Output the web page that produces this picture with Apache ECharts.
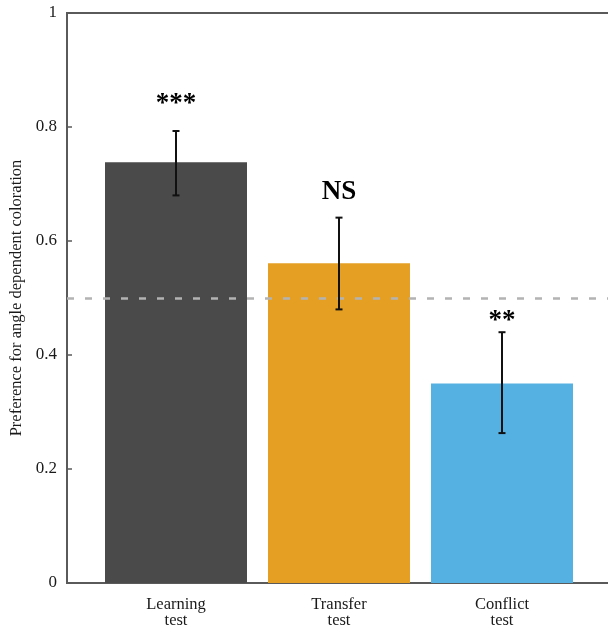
<!DOCTYPE html>
<html><head><meta charset="utf-8">
<script src="https://cdn.jsdelivr.net/npm/echarts@6/dist/echarts.min.js"></script>
<style>html,body{margin:0;padding:0;background:#fff}#c{width:608px;height:629px}</style>
</head><body><div id="c"></div>
<script>
const categories = ['Learning\ntest', 'Transfer\ntest', 'Conflict\ntest'];
const means = [0.738, 0.561, 0.350];
const errLow = [0.680, 0.480, 0.263];
const errHigh = [0.793, 0.641, 0.440];
const annotations = ['***', 'NS', '**'];
const annotationY = [0.84, 0.686, 0.459];
const chanceLevel = 0.5;
const yTicks = [0, 0.2, 0.4, 0.6, 0.8, 1];
const barColors = ['#4a4a4a', '#e5a024', '#56b1e3'];

const serif = '"Liberation Serif","DejaVu Serif",serif';
const chart = echarts.init(document.getElementById('c'), null, {renderer: 'canvas'});
chart.setOption({
  animation: false,
  backgroundColor: '#fff',
  grid: [
    {left: 67, right: -8, top: 13, bottom: 46, show: true, borderColor: '#5a5a5a', borderWidth: 2,
     backgroundColor: 'transparent', containLabel: false, outerBoundsMode: 'none'},
    {left: 94.5, right: 24.5, top: 13, bottom: 46, containLabel: false, outerBoundsMode: 'none'}
  ],
  xAxis: [
    {gridIndex: 0, type: 'value', min: 0, max: 1, show: false},
    {gridIndex: 1, type: 'category', data: categories,
     axisLine: {show: false}, axisTick: {show: false},
     axisLabel: {fontFamily: serif, fontSize: 16.5, color: '#1a1a1a', lineHeight: 16, margin: 14}}
  ],
  yAxis: [
    {gridIndex: 0, type: 'value', min: 0, max: 1, interval: 0.2,
     name: 'Preference for angle dependent coloration', nameLocation: 'middle', nameGap: 42,
     nameTextStyle: {fontFamily: serif, fontSize: 16.5, color: '#1a1a1a'},
     axisLine: {show: true, lineStyle: {color: '#5a5a5a', width: 2}},
     axisTick: {show: true, inside: true, length: 5, lineStyle: {color: '#5a5a5a', width: 1.5}},
     splitLine: {show: false},
     axisLabel: {fontFamily: serif, fontSize: 17, color: '#1a1a1a', margin: 10,
       formatter: v => { const t = yTicks.find(x => Math.abs(x - v) < 1e-9); return t === undefined ? '' : String(t); }}},
    {gridIndex: 1, type: 'value', min: 0, max: 1, show: false}
  ],
  series: [
    {type: 'line', xAxisIndex: 0, yAxisIndex: 0, data: [], silent: true,
     markLine: {silent: true, symbol: 'none', label: {show: false},
       lineStyle: {color: '#b3b3b3', type: [7, 11], width: 2.5},
       data: [{yAxis: chanceLevel}]}},
    {type: 'bar', xAxisIndex: 1, yAxisIndex: 1, barWidth: 142, z: 2,
     data: means.map((v, i) => ({value: v, itemStyle: {color: barColors[i]}}))},
    {type: 'custom', xAxisIndex: 1, yAxisIndex: 1, z: 10,
     data: categories.map((c, i) => [i, errLow[i], errHigh[i]]),
     renderItem: (params, api) => {
       const lo = api.coord([api.value(0), api.value(1)]);
       const hi = api.coord([api.value(0), api.value(2)]);
       const w = 3.5;
       const st = {stroke: '#111', lineWidth: 2};
       return {type: 'group', children: [
         {type: 'line', shape: {x1: hi[0], y1: hi[1], x2: lo[0], y2: lo[1]}, style: st},
         {type: 'line', shape: {x1: hi[0] - w, y1: hi[1], x2: hi[0] + w, y2: hi[1]}, style: st},
         {type: 'line', shape: {x1: lo[0] - w, y1: lo[1], x2: lo[0] + w, y2: lo[1]}, style: st}
       ]};
     }},
    {type: 'scatter', xAxisIndex: 1, yAxisIndex: 1, symbolSize: 1, silent: true, z: 10,
     itemStyle: {opacity: 0},
     data: annotationY.map((v, i) => [i, v]),
     label: {show: true, position: 'inside', opacity: 1,
       formatter: p => annotations[p.dataIndex],
       fontFamily: serif, fontWeight: 'bold', color: '#000',
       fontSize: 27}}
  ]
});
</script></body></html>
